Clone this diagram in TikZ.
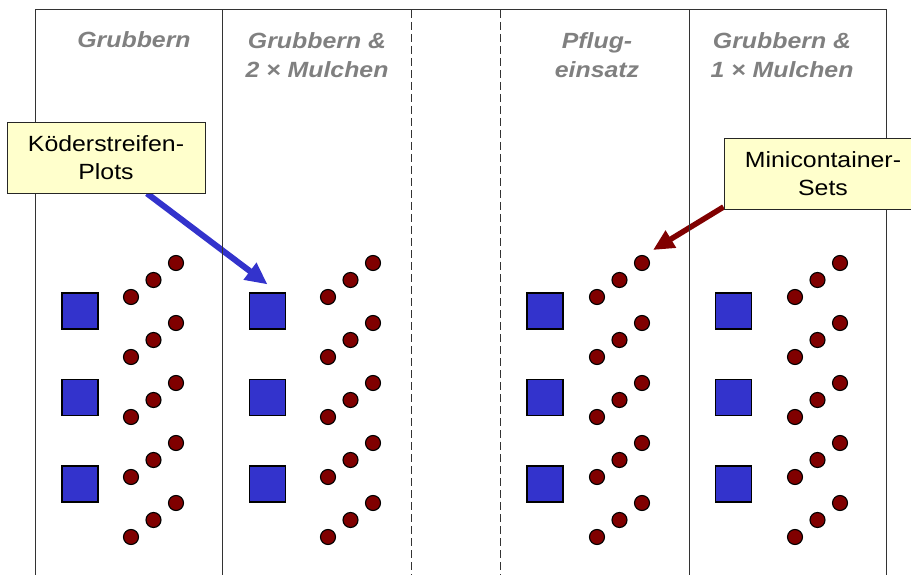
\documentclass[tikz,border=0pt]{standalone}
\usepackage{fontspec}
\setmainfont{Liberation Sans}[FakeStretch=1.13]
\usetikzlibrary{arrows.meta}
\definecolor{sqblue}{HTML}{3333CC}
\definecolor{dotred}{HTML}{800000}
\definecolor{callout}{HTML}{FFFFCC}
\definecolor{hdrgray}{HTML}{808080}
\pgfdeclarelayer{background}
\pgfsetlayers{background,main}
\begin{document}
\begin{tikzpicture}[x=1pt,y=-1pt,
  frame/.style={draw=black!80, line width=1pt},
  sepline/.style={frame, dash pattern=on 8pt off 4pt},
  hdr/.style={font=\fontsize{22}{29}\selectfont\bfseries\itshape, text=hdrgray, align=center, inner sep=0pt, anchor=north},
  plot/.style={draw=black, line width=1.2pt, fill=sqblue, minimum size=36pt, inner sep=0pt},
  mcset/.style={circle, draw=black, line width=1.1pt, fill=dotred, minimum size=15pt, inner sep=0pt},
  note/.style={draw=black!85, line width=0.9pt, fill=callout, font=\fontsize{22}{28}\selectfont, align=center, minimum width=198pt, minimum height=71pt, inner sep=0pt}]
\useasboundingbox (0,0) rectangle (911,575);
\clip (0,0) rectangle (911,575);
% frame
\draw[frame] (35,575) -- (35,10) -- (886,10) -- (886,575);
\draw[frame] (222,10) -- (222,575);
\draw[frame] (689,10) -- (689,575);
\draw[sepline] (411,10) -- (411,575);
\draw[sepline] (500,10) -- (500,575);
% headers
\node[hdr] (h1) at (134,31) {Grubbern};
\node[hdr] (h2) at (317,32) {Grubbern \&\\2 × Mulchen};
\node[hdr] (h3) at (597,32) {Pflug-\\einsatz};
\node[hdr] (h4) at (782,32) {Grubbern \&\\1 × Mulchen};
% plots and minicontainer sets
\foreach \c/\sx/\dx in {1/80/131, 2/267.5/328, 3/545/597, 4/733.5/795}{
  \foreach \r/\yy in {1/311,2/397.5,3/484}
    \node[plot] (sq\c\r) at (\sx,\yy) {};
  \foreach \g in {0,...,4}{
    \foreach \k in {0,1,2}
      \node[mcset] (d\c\g\k) at ({\dx+22.5*\k},{297+60*\g-17*\k}) {};
  }
}
% callouts
\node[note] (kp) at (106,157.5) {Köderstreifen-\\Plots};
\node[note] (mc) at (823,174) {Minicontainer-\\Sets};
% arrows
\begin{pgfonlayer}{background}
\draw[line width=6pt, sqblue, -{Triangle[length=22pt,width=20pt]}] ([xshift=41pt]kp.south) -- ([yshift=8pt]sq21.north);
\draw[line width=5.5pt, dotred, -{Triangle[length=21pt,width=19pt]}] ([yshift=3pt]mc.south west) -- ([xshift=11pt,yshift=13pt]d302.center);
\end{pgfonlayer}
\end{tikzpicture}
\end{document}
